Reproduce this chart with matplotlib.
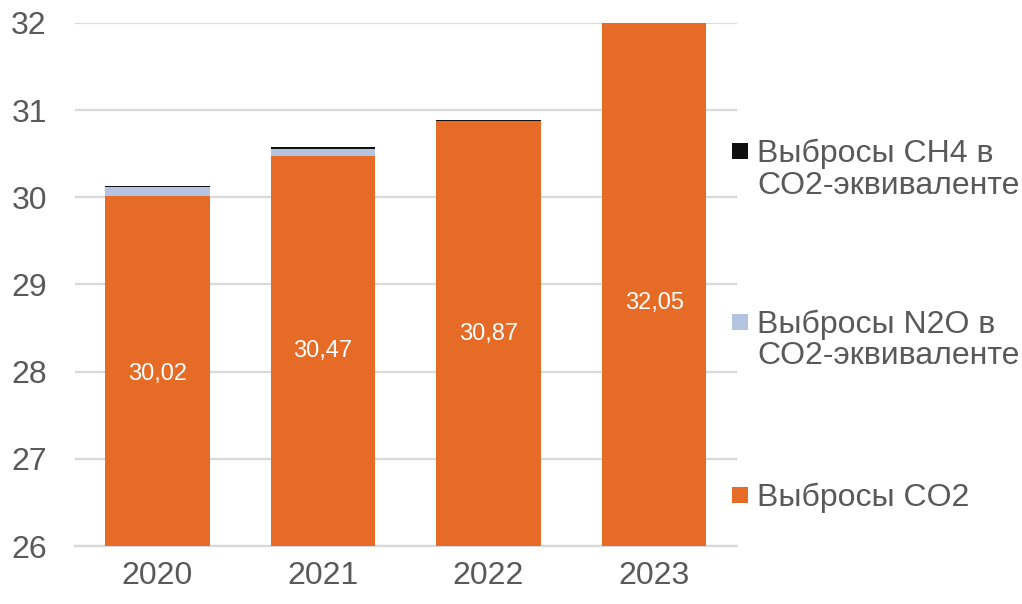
import matplotlib
matplotlib.use("Agg")
import matplotlib.pyplot as plt
from matplotlib.patches import Rectangle
import numpy as np

years = ["2020", "2021", "2022", "2023"]
co2 = [30.02, 30.47, 30.87, 32.05]
n2o = [0.10, 0.08, 0.01, 0.0]
ch4 = [0.01, 0.03, 0.005, 0.0]
co2_labels = ["30,02", "30,47", "30,87", "32,05"]
series_names = ["Выбросы CO2", "Выбросы N2O в\nCO2-эквиваленте", "Выбросы CH4 в\nCO2-эквиваленте"]

c_co2 = "#E56B27"
c_n2o = "#B4C3DF"
c_ch4 = "#111111"
colors = [c_co2, c_n2o, c_ch4]
txt = "#595959"
grid_c = "#D9D9D9"

plt.rcParams['font.family'] = ['Liberation Sans', 'DejaVu Sans']

W, H = 1022, 604
fig = plt.figure(figsize=(W / 100, H / 100), dpi=100)
ax = fig.add_axes([0.073, 0.096, 0.648, 0.866])

x = np.arange(len(years))
w = 0.63
ymin, ymax = 26, 32
ax.bar(x, co2, w, color=c_co2, zorder=3)
b2 = np.array(co2)
ax.bar(x, n2o, w, bottom=b2, color=c_n2o, zorder=3)
b3 = b2 + np.array(n2o)
ax.bar(x, ch4, w, bottom=b3, color=c_ch4, zorder=3)

ax.set_ylim(ymin, ymax)
ax.set_xlim(-0.5, len(years) - 0.5)
ax.set_yticks(range(ymin, ymax + 1))
ax.set_xticks(x)
ax.set_xticklabels(years)
ax.yaxis.grid(True, color=grid_c, linewidth=1.6, zorder=0)
ax.set_axisbelow(True)
for s in ["top", "right", "left"]:
    ax.spines[s].set_visible(False)
ax.spines["bottom"].set_color(grid_c)
ax.spines["bottom"].set_linewidth(1.6)
ax.tick_params(axis="y", length=0, pad=20, labelsize=23, labelcolor=txt)
ax.tick_params(axis="x", length=0, pad=11, labelsize=23, labelcolor=txt)

# value labels centred in the visible part of each CO2 bar
label_y = [(ymin + min(v, ymax)) / 2 for v in co2]
label_y[0] -= 0.04
label_y[-1] = 28.79
for xi, yi, lab in zip(x, label_y, co2_labels):
    ax.text(xi, yi, lab, ha="center", va="center", color="white", fontsize=17,
            zorder=4)

# legend (manual, handle aligned with first text line as in the source)
first_baselines = [506, 333, 162]   # pixel rows from top for CO2, N2O, CH4
line_pitch = 31.5
for name, col, base in zip(series_names, colors, first_baselines):
    for k, line in enumerate(name.split("\n")):
        fig.text(757 / W, 1 - (base + k * line_pitch) / H, line, ha="left",
                 va="baseline", fontsize=23, color=txt)
    cy = base - 11
    fig.add_artist(Rectangle((732 / W, 1 - (cy + 7.5) / H), 15.5 / W, 15.5 / H,
                             transform=fig.transFigure, facecolor=col,
                             edgecolor="none"))

fig.savefig("out.png", dpi=100)
